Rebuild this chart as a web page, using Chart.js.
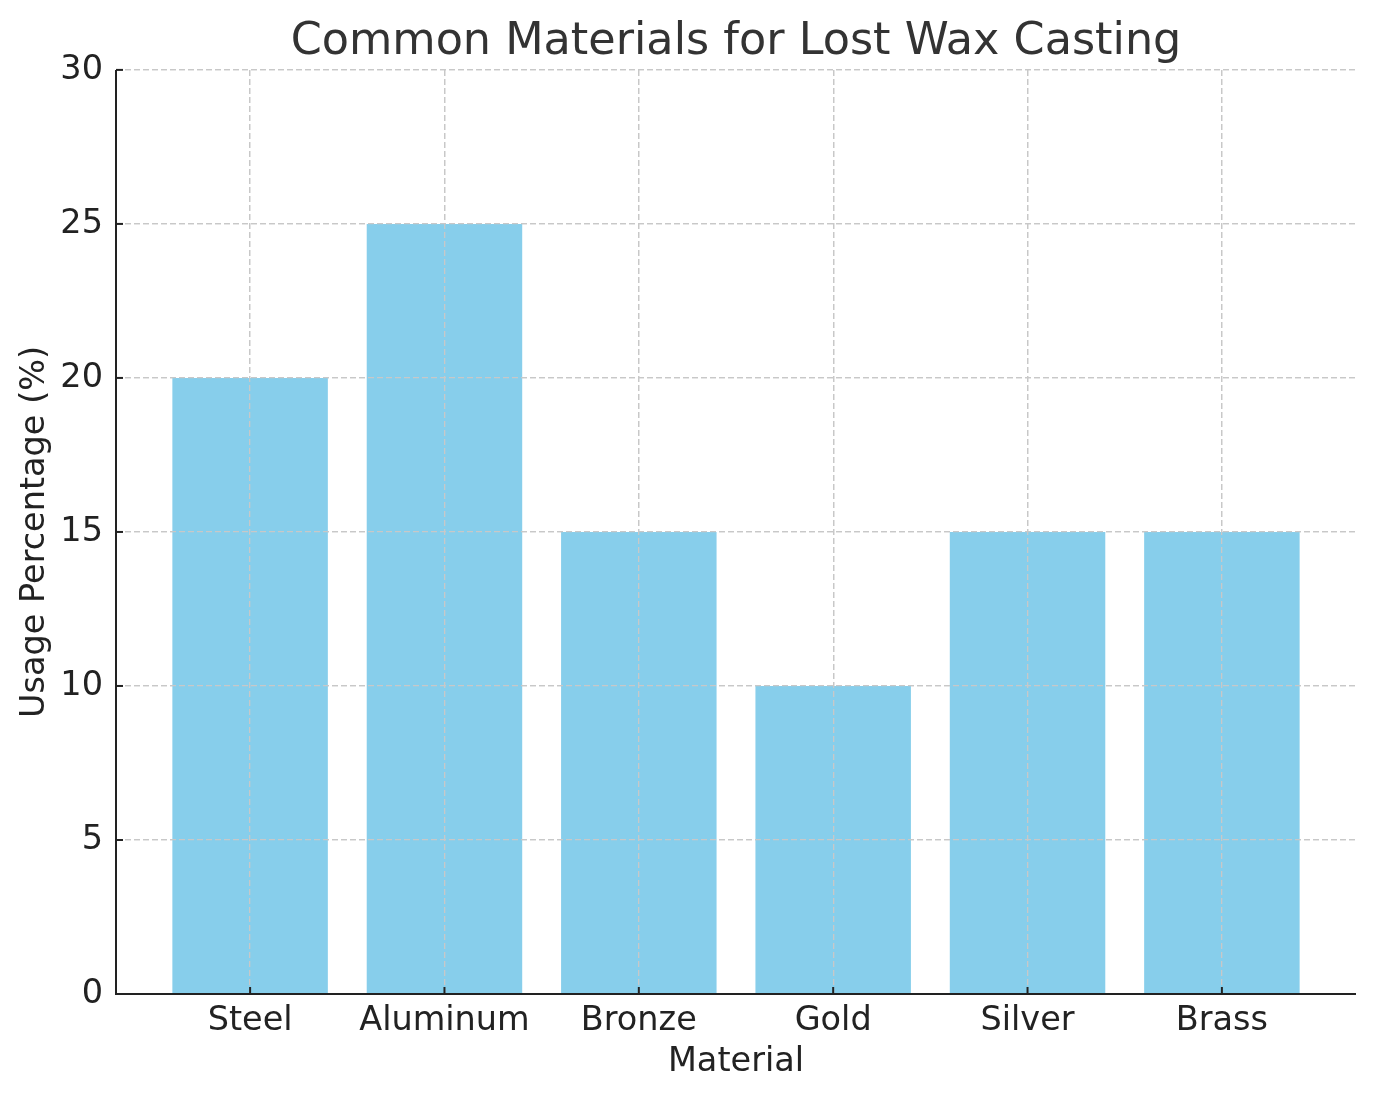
<!DOCTYPE html>
<html>
<head>
<meta charset="utf-8">
<script src="https://cdn.jsdelivr.net/npm/chart.js@4"></script>
<style>
  html, body { margin: 0; padding: 0; background: #fff; }
  canvas { display: block; }
</style>
</head>
<body>
<canvas id="chart" width="1376" height="1101"></canvas>
<script>
const materials = ['Steel', 'Aluminum', 'Bronze', 'Gold', 'Silver', 'Brass'];
const usage = [20, 25, 15, 10, 15, 15];
const yTicks = [0, 5, 10, 15, 20, 25, 30];

const FONT = 'DejaVu Sans';
const gridColor = '#c8c8c8';
const axisColor = '#222';

// grid goes over the bars like in the original, then axis lines and inward tick marks
const overlayPlugin = {
  id: 'overlay',
  afterDatasetsDraw(chart) {
    const area = chart.chartArea;
    const xs = chart.scales.x;
    const ys = chart.scales.y;
    xs.drawGrid(area);
    ys.drawGrid(area);

    const ctx = chart.ctx;
    ctx.save();
    ctx.strokeStyle = axisColor;
    ctx.lineWidth = 2;
    ctx.setLineDash([]);
    ctx.beginPath();
    ctx.moveTo(area.left, area.top);
    ctx.lineTo(area.left, area.bottom);
    ctx.lineTo(area.right, area.bottom);
    ctx.stroke();
    xs.ticks.forEach(t => {
      const px = xs.getPixelForValue(t.value);
      ctx.beginPath();
      ctx.moveTo(px, area.bottom);
      ctx.lineTo(px, area.bottom - 7);
      ctx.stroke();
    });
    ys.ticks.forEach(t => {
      const py = ys.getPixelForValue(t.value);
      ctx.beginPath();
      ctx.moveTo(area.left, py);
      ctx.lineTo(area.left + 7, py);
      ctx.stroke();
    });
    ctx.restore();
  }
};

new Chart(document.getElementById('chart'), {
  type: 'bar',
  data: {
    datasets: [{
      data: materials.map((m, i) => ({ x: i, y: usage[i] })),
      backgroundColor: '#87ceeb',
      borderWidth: 0,
      barPercentage: 0.8,
      categoryPercentage: 1
    }]
  },
  options: {
    responsive: false,
    animation: false,
    devicePixelRatio: 1,
    layout: { padding: { left: 0, right: 20, top: 0, bottom: 0 } },
    plugins: {
      legend: { display: false },
      tooltip: { enabled: false },
      title: {
        display: true,
        fullSize: false,
        text: 'Common Materials for Lost Wax Casting',
        color: '#333',
        font: { family: FONT, size: 44.5, weight: 'normal' },
        padding: { top: 15.5, bottom: 1 }
      }
    },
    scales: {
      x: {
        type: 'linear',
        min: -0.69,
        max: 5.69,
        offset: false,
        afterBuildTicks: scale => {
          scale.ticks = materials.map((m, i) => ({ value: i }));
        },
        afterFit: scale => { scale.height = 107; },
        ticks: {
          color: axisColor,
          font: { family: FONT, size: 33.5 },
          padding: 7,
          maxRotation: 0,
          autoSkip: false,
          callback: v => materials[v]
        },
        grid: {
          offset: false,
          color: gridColor,
          lineWidth: 1.3,
          drawTicks: false
        },
        border: { display: false, dash: [6, 3] },
        title: {
          display: true,
          text: 'Material',
          color: axisColor,
          font: { family: FONT, size: 33.5 },
          padding: { top: 0, bottom: 19 }
        }
      },
      y: {
        min: 0,
        max: 30,
        afterBuildTicks: scale => {
          scale.ticks = yTicks.map(v => ({ value: v }));
        },
        afterFit: scale => { scale.width = 116; },
        ticks: {
          color: axisColor,
          font: { family: FONT, size: 33.5 },
          padding: 13
        },
        grid: {
          color: c => (c.tick && c.tick.value === 0) ? 'rgba(0,0,0,0)' : gridColor,
          lineWidth: 1.3,
          drawTicks: false
        },
        border: { display: false, dash: [6, 3] },
        title: {
          display: true,
          text: 'Usage Percentage (%)',
          color: axisColor,
          font: { family: FONT, size: 33.5 },
          padding: { top: 15, bottom: 0 }
        }
      }
    }
  },
  plugins: [overlayPlugin]
});
</script>
</body>
</html>
